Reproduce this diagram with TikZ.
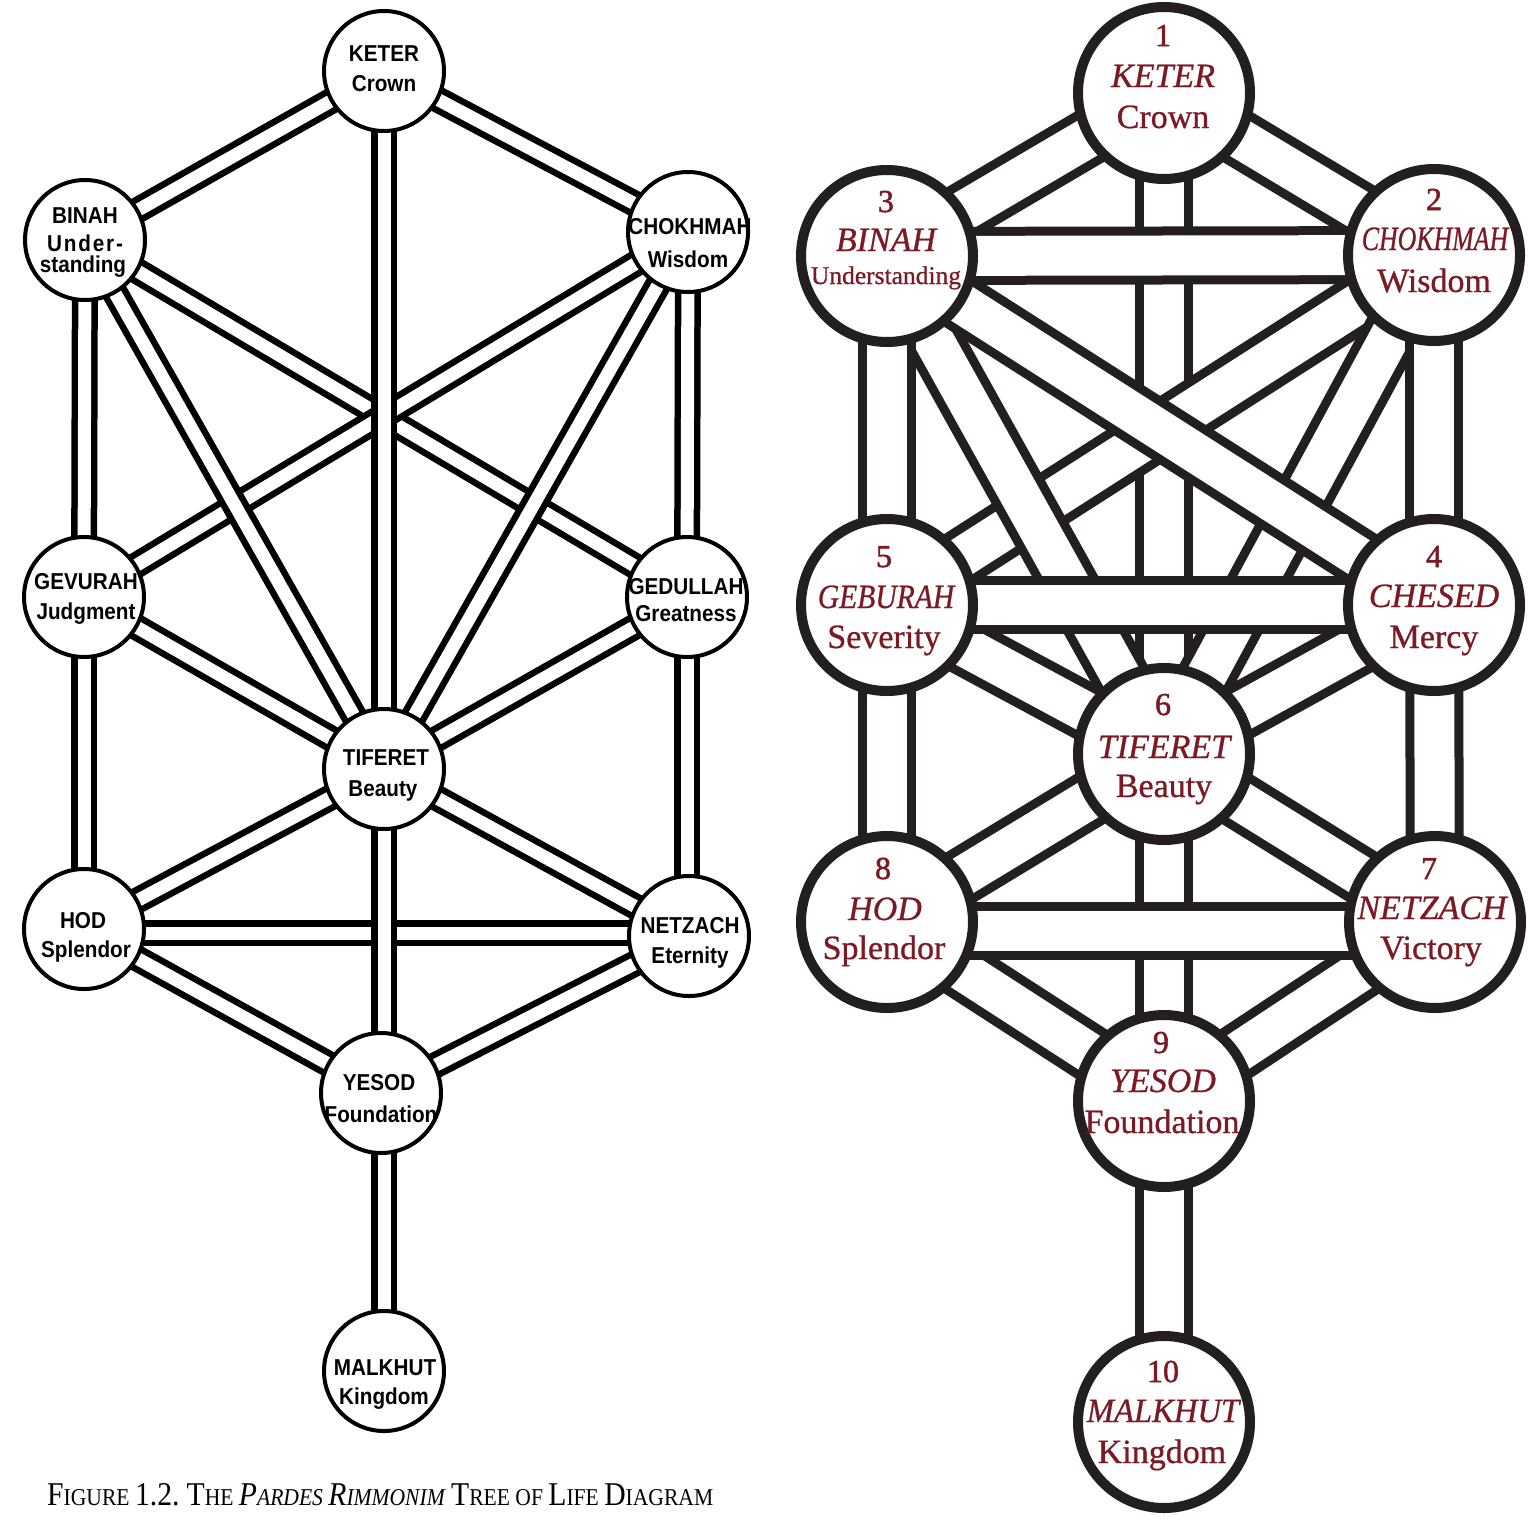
\documentclass[tikz,border=0pt]{standalone}
\usepackage{fontspec}
\setmainfont{Liberation Serif}
\newfontfamily\lsans[FakeStretch=0.9]{Liberation Sans}
\newfontfamily\rser[FakeBold=0.8]{Liberation Serif}
\newfontfamily\rserit[FakeBold=0.8]{Liberation Serif Italic}
\newfontfamily\rsernum[FakeBold=1.6]{Liberation Serif}
\usetikzlibrary{backgrounds}
\definecolor{sefred}{RGB}{124,26,36}
\definecolor{inkR}{RGB}{35,31,32}
\newcommand\bigc[1]{{\fontsize{33}{33}\selectfont #1}}
\newcommand\smc[1]{{\fontsize{24}{24}\selectfont #1}}
\tikzset{
 pipeL/.style={line width=6.5pt, double=white, double distance=13pt, draw=black},
 pipeR/.style={line width=9pt, double=white, double distance=40pt, draw=inkR},
 circL/.style={circle, draw=black, line width=4pt, fill=white, minimum size=120pt, inner sep=0pt},
 circR/.style={circle, draw=inkR, line width=10pt, fill=white, minimum size=172pt, inner sep=0pt},
 txtL/.style={font=\lsans\bfseries\fontsize{23}{28}\selectfont, inner sep=0pt, anchor=base},
 numR/.style={font=\rsernum\fontsize{32}{36}\selectfont, text=sefred, inner sep=0pt, anchor=base},
 nameR/.style={font=\rserit\fontsize{34}{40}\selectfont, text=sefred, inner sep=0pt, anchor=base},
 meanR/.style={font=\rser\fontsize{34}{40}\selectfont, text=sefred, inner sep=0pt, anchor=base},
}
\begin{document}
\begin{tikzpicture}[x=1pt,y=-1pt]
\useasboundingbox (0,0) rectangle (1527,1531);
% ---------------- left tree ----------------
\node[circL] (lk)  at (384,71) {};
\node[circL] (lb)  at (85,240) {};
\node[circL] (lc)  at (688,232) {};
\node[circL] (lg)  at (84,597) {};
\node[circL] (lgd) at (687,597) {};
\node[circL] (lt)  at (384,769) {};
\node[circL] (lh)  at (84,929) {};
\node[circL] (ln)  at (689,936) {};
\node[circL] (ly)  at (381,1093) {};
\node[circL] (lm)  at (384,1371) {};
\node[txtL] (lk1) at (384,61.5) {KETER};
\node[txtL] (lk2) at (384,91) {Crown};
\node[txtL] (lb1) at (85,223.5) {BINAH};
\node[txtL] (lb2) at (85,251) {\addfontfeature{LetterSpace=8}Under-};
\node[txtL] (lb3) at (83,272) {standing};
\node[txtL] (lc1) at (690,234.5) {CHOKHMAH};
\node[txtL] (lc2) at (688,267) {Wisdom};
\node[txtL] (lg1) at (86,589.5) {GEVURAH};
\node[txtL] (lg2) at (86,619) {Judgment};
\node[txtL] (lgd1) at (686,594.5) {GEDULLAH};
\node[txtL] (lgd2) at (686,621) {Greatness};
\node[txtL] (lt1) at (386,765.5) {TIFERET};
\node[txtL] (lt2) at (383,796) {Beauty};
\node[txtL] (lh1) at (83,928.5) {HOD};
\node[txtL] (lh2) at (86,957) {Splendor};
\node[txtL] (ln1) at (690,933.5) {NETZACH};
\node[txtL] (ln2) at (690,963) {Eternity};
\node[txtL] (ly1) at (379,1090.5) {YESOD};
\node[txtL] (ly2) at (381,1122) {Foundation};
\node[txtL] (lm1) at (385,1375.5) {MALKHUT};
\node[txtL] (lm2) at (384,1404) {Kingdom};
\node[anchor=base west, inner sep=0pt] (cap) at (47,1505) {\resizebox{666pt}{22pt}{\fontsize{24}{24}\selectfont\bigc{F}\smc{IGURE} \bigc{1.2.} \bigc{T}\smc{HE} \textit{\bigc{P}\smc{ARDES} \bigc{R}\smc{IMMONIM}} \bigc{T}\smc{REE} \smc{OF} \bigc{L}\smc{IFE} \bigc{D}\smc{IAGRAM}}};
% ---------------- right tree ----------------
\node[circR] (rk) at (1164,93) {};
\node[circR] (rb) at (887,256) {};
\node[circR] (rc) at (1434,255) {};
\node[circR] (rg) at (887,605) {};
\node[circR] (rs) at (1434,605) {};
\node[circR] (rt) at (1164,754) {};
\node[circR] (rh) at (887,922) {};
\node[circR] (rn) at (1435,922) {};
\node[circR] (ry) at (1164,1101) {};
\node[circR] (rm) at (1164,1422) {};
\node[numR]  (rk1) at (1163,46) {1};
\node[nameR] (rk2) at (1163,87) {KETER};
\node[meanR] (rk3) at (1163,128) {Crown};
\node[numR]  (rb1) at (886,212) {3};
\node[nameR] (rb2) at (886,251) {BINAH};
\node[meanR,font=\rser\fontsize{25.5}{30}\selectfont] (rb3) at (886,284) {Understanding};
\node[numR]  (rc1) at (1434,210) {2};
\node[nameR] (rc2) at (1435,250) {\scalebox{0.76}[1]{CHOKHMAH}};
\node[meanR] (rc3) at (1434,292) {Wisdom};
\node[numR]  (rg1) at (884,567) {5};
\node[nameR] (rg2) at (886,608) {\scalebox{0.87}[1]{GEBURAH}};
\node[meanR] (rg3) at (884,648) {Severity};
\node[numR]  (rs1) at (1434,567) {4};
\node[nameR] (rs2) at (1434,607) {CHESED};
\node[meanR] (rs3) at (1434,648) {Mercy};
\node[numR]  (rt1) at (1163,715) {6};
\node[nameR] (rt2) at (1164,758) {TIFERET};
\node[meanR] (rt3) at (1164,797) {Beauty};
\node[numR]  (rh1) at (883,879) {8};
\node[nameR] (rh2) at (885,920) {HOD};
\node[meanR] (rh3) at (884,959) {Splendor};
\node[numR]  (rn1) at (1429,879) {7};
\node[nameR] (rn2) at (1432,919) {NETZACH};
\node[meanR] (rn3) at (1431,959) {Victory};
\node[numR]  (ry1) at (1161,1053) {9};
\node[nameR] (ry2) at (1163,1092) {YESOD};
\node[meanR] (ry3) at (1162,1133) {Foundation};
\node[numR]  (rm1) at (1163,1382) {10};
\node[nameR] (rm2) at (1163,1422) {\scalebox{0.96}[1]{MALKHUT}};
\node[meanR] (rm3) at (1162,1463) {Kingdom};
% ---------------- connectors ----------------
\begin{pgfonlayer}{background}
\fill[white] (0,0) rectangle (1527,1531);
\foreach \a/\b in {lk/lb, lk/lc, lb/lgd, lc/lg, lb/lt, lc/lt, lg/lt, lgd/lt,
  lh/lt, ln/lt, lh/ly, ln/ly, lb/lg, lc/lgd, lg/lh, lk/lt}
  \draw[pipeL] (\a.center) -- (\b.center);
\draw[pipeL] (lgd.center) -- (lgd.center |- ln.center);
\draw[pipeL] ([yshift=-4pt]lh.center) -- ([yshift=3pt]ln.center);
\draw[pipeL] (lt.center) -- (lt.center |- ly.center);
\draw[pipeL] (lm.center |- ly.center) -- (lm.center);
\foreach \a/\b in {rk/rt, rt/ry, ry/rm, rc/rg, rc/rt, rb/rt, rb/rs, rk/rb, rk/rc,
  rg/rt, rs/rt, rh/rt, rn/rt, rh/ry, rn/ry, rb/rg, rc/rs, rg/rh, rs/rn, rb/rc, rg/rs}
  \draw[pipeR] (\a.center) -- (\b.center);
\draw[pipeR] ([yshift=-9pt]rh.center) -- ([yshift=-9pt]rn.center);
\end{pgfonlayer}
\end{tikzpicture}
\end{document}
